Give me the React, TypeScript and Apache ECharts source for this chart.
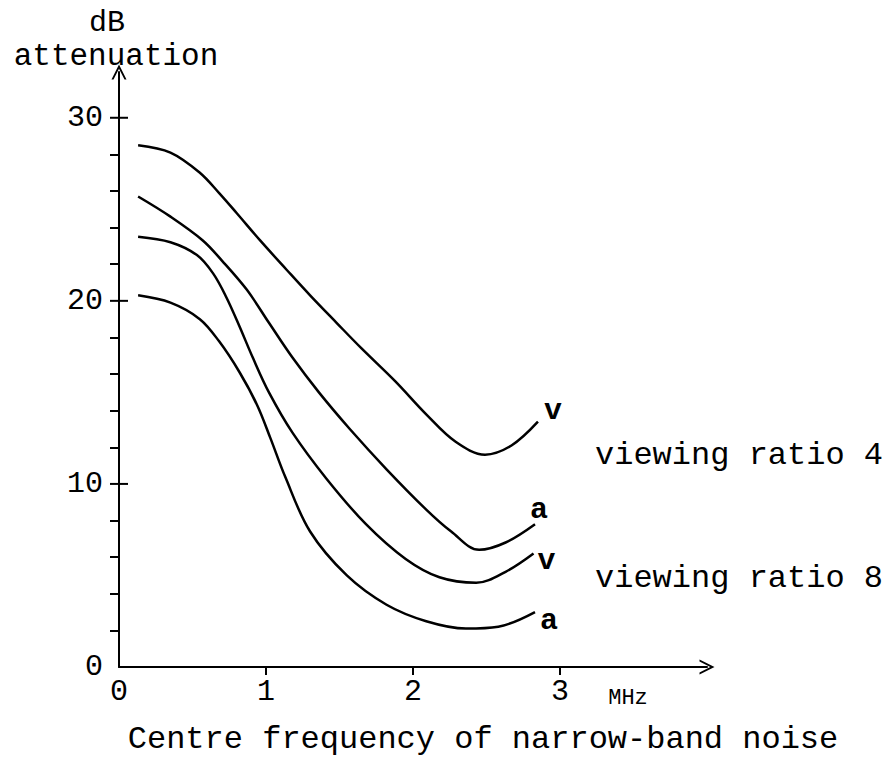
import React, { useEffect, useRef } from "react";
import * as echarts from "echarts";

// Centre frequency (MHz) vs dB attenuation
const ratio4V: [number, number][] = [
  [0.13, 28.5], [0.35, 28.1], [0.55, 27.0], [0.68, 25.9], [0.8, 24.8], [0.96, 23.3],
  [1.14, 21.7], [1.3, 20.3], [1.48, 18.8], [1.65, 17.4], [1.88, 15.6], [2.09, 13.8],
  [2.29, 12.3], [2.49, 11.6], [2.67, 12.1], [2.85, 13.4],
];
const ratio4A: [number, number][] = [
  [0.13, 25.7], [0.35, 24.6], [0.57, 23.3], [0.7, 22.2], [0.87, 20.6], [1.02, 18.8],
  [1.18, 16.9], [1.36, 15.0], [1.57, 13.0], [1.82, 10.8], [2.09, 8.6], [2.26, 7.4],
  [2.45, 6.4], [2.63, 6.8], [2.83, 7.8],
];
const ratio8V: [number, number][] = [
  [0.13, 23.5], [0.35, 23.2], [0.53, 22.5], [0.64, 21.5], [0.73, 20.2], [0.82, 18.6],
  [0.91, 16.9], [1.02, 15.0], [1.18, 12.8], [1.41, 10.3], [1.68, 7.8], [1.95, 5.9],
  [2.18, 4.9], [2.43, 4.6], [2.63, 5.2], [2.82, 6.2],
];
const ratio8A: [number, number][] = [
  [0.13, 20.3], [0.35, 19.9], [0.55, 19.0], [0.68, 17.8], [0.82, 16.1], [0.94, 14.3],
  [1.03, 12.5], [1.13, 10.4], [1.3, 7.4], [1.55, 5.0], [1.82, 3.4], [2.09, 2.5],
  [2.36, 2.1], [2.58, 2.2], [2.83, 3.0],
];

const xTickLabels = [0, 1, 2, 3];
const xMajorTicks = [1, 2, 3];
const yTickLabels = [0, 10, 20, 30];
const yMinorTicks = [2, 4, 6, 8, 12, 14, 16, 18, 22, 24, 26, 28];
const yMajorTicks = [10, 20, 30];

const FONT = "Liberation Mono";
const INK = "#000";
const chevron = "path://M0,12 L6,0 L12,12 L10.4,12 L6,3.4 L1.6,12 Z";

export default function App() {
  const ref = useRef<HTMLDivElement>(null);
  useEffect(() => {
    if (!ref.current) return;
    const chart = echarts.init(ref.current, null, { renderer: "svg" });
    const lineSeries = (name: string, data: [number, number][], label: string, offset: number[]) => ({
      name,
      type: "line",
      data,
      smooth: 0.35,
      showSymbol: false,
      symbol: "none",
      lineStyle: { color: INK, width: 2.5 },
      endLabel: {
        show: true,
        formatter: label,
        color: INK,
        fontFamily: FONT,
        fontSize: 30,
        fontWeight: "bold",
        distance: 4,
        offset,
      },
    });
    chart.setOption({
      animation: false,
      backgroundColor: "#fff",
      grid: { left: 119, top: 72, right: 185, bottom: 92 },
      xAxis: {
        type: "value",
        min: 0,
        max: 4,
        interval: 1,
        axisLine: {
          show: true,
          lineStyle: { color: INK, width: 2 },
          symbol: ["none", chevron],
          symbolSize: [15, 15],
        },
        axisTick: { show: true, customValues: xMajorTicks, length: 8, lineStyle: { color: INK, width: 2 } },
        axisLabel: {
          customValues: xTickLabels,
          color: INK,
          fontFamily: FONT,
          fontSize: 30,
          margin: 10,
        },
        splitLine: { show: false },
        name: "Centre frequency of narrow-band noise",
        nameLocation: "middle",
        nameGap: 56,
        nameTextStyle: { color: INK, fontFamily: FONT, fontSize: 32, padding: [0, 0, 0, 140] },
      },
      yAxis: {
        type: "value",
        min: 0,
        max: 32.5,
        axisLine: {
          show: true,
          lineStyle: { color: INK, width: 2 },
          symbol: ["none", chevron],
          symbolSize: [15, 16],
        },
        axisTick: {
          show: true,
          customValues: yMinorTicks,
          length: 9,
          lineStyle: { color: INK, width: 2 },
        },
        axisLabel: {
          customValues: yTickLabels,
          color: INK,
          fontFamily: FONT,
          fontSize: 30,
          margin: 16,
          padding: [12, 0, 0, 0],
        },
        splitLine: { show: false },
      },
      series: [
        lineSeries("viewing ratio 4 v", ratio4V, "v", [2, -11]),
        lineSeries("viewing ratio 4 a", ratio4A, "a", [-9, -14]),
        lineSeries("viewing ratio 8 v", ratio8V, "v", [0, 8]),
        lineSeries("viewing ratio 8 a", ratio8A, "a", [1, 9]),
        {
          // major y ticks that cross the axis on both sides
          name: "major ticks",
          type: "custom",
          silent: true,
          clip: false,
          data: yMajorTicks.map((v) => [0, v]),
          renderItem: (params: any, api: any) => {
            const p = api.coord([api.value(0), api.value(1)]);
            return {
              type: "line",
              shape: { x1: p[0] - 9, y1: p[1], x2: p[0] + 9, y2: p[1] },
              style: { stroke: INK, lineWidth: 2 },
            };
          },
        },
      ],
      graphic: [
        { type: "text", style: { x: 107, y: 23, text: "dB", textAlign: "center", textVerticalAlign: "middle", fontFamily: FONT, fontSize: 30, fill: INK } },
        { type: "text", style: { x: 116, y: 56, text: "attenuation", textAlign: "center", textVerticalAlign: "middle", fontFamily: FONT, fontSize: 31, fill: INK } },
        { type: "text", style: { x: 628, y: 698, text: "MHz", textAlign: "center", textVerticalAlign: "middle", fontFamily: FONT, fontSize: 22, fill: INK } },
        { type: "text", style: { x: 595, y: 455, text: "viewing ratio 4", textAlign: "left", textVerticalAlign: "middle", fontFamily: FONT, fontSize: 32, fill: INK } },
        { type: "text", style: { x: 595, y: 578, text: "viewing ratio 8", textAlign: "left", textVerticalAlign: "middle", fontFamily: FONT, fontSize: 32, fill: INK } },
      ],
    });
    return () => chart.dispose();
  }, []);
  return <div ref={ref} style={{ position: "fixed", left: 0, top: 0, width: 892, height: 760 }} />;
}
